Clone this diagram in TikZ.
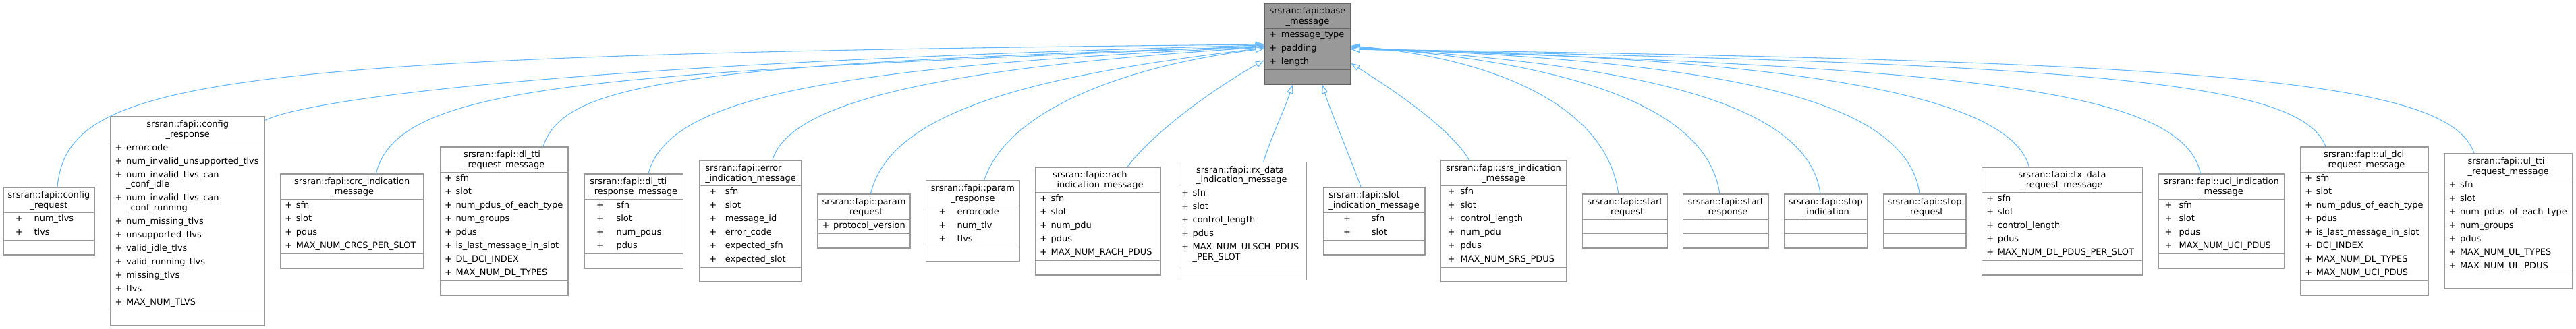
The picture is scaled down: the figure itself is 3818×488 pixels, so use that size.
\documentclass[tikz,border=0pt]{standalone}
\usepackage{fontspec}
\setmainfont{DejaVu Sans}
\usetikzlibrary{arrows.meta,positioning,fit,calc}
\definecolor{inheritblue}{HTML}{63B8FF}
\definecolor{boxgray}{HTML}{999999}
\definecolor{basefill}{HTML}{999999}
\definecolor{basedraw}{HTML}{666666}
\newlength{\pluscol}
\newcommand{\fattr}[1]{\strut\makebox[\pluscol][l]{+}#1}
\newcommand{\fcont}[1]{\\[-4pt]\strut\hspace*{\pluscol}#1}
\newcommand{\ftitle}[2]{\strut#1\\\strut#2}
\newcommand{\fapiclass}[8]{%
  \node[classbox,#8,fit={#2}] (#1) {};
  \node[classtitle,align=#4] at ($(#1.north)+(0,20.8)$) {#3};
  \draw[classrule,#8] ($(#1.north west)+(0,38)$) -- ($(#1.north east)+(0,38)$);
  \draw[classrule,#8] ($(#1.south west)+(0,-22)$) -- ($(#1.south east)+(0,-22)$);
  \setlength{\pluscol}{#6}%
  \node[classattr] at ($(#1.north west)+(#5,36.7)$) {#7};%
}

\begin{document}
\begin{tikzpicture}[
  x=0.75pt,y=-0.75pt,
  classbox/.style={draw=boxgray,fill=white,line width=1pt,inner sep=0pt},
  classrule/.style={draw=boxgray,line width=1pt},
  classtitle/.style={inner sep=0pt,font=\fontsize{9.7}{10.8}\selectfont},
  classattr/.style={anchor=north west,inner sep=0pt,align=left,font=\fontsize{9.7}{15}\selectfont},
  inherit/.style={draw=inheritblue,line width=0.8pt,-{Triangle[length=9.75pt,width=7pt,fill=white]}}
]
\useasboundingbox (0,0) rectangle (3818,488);

\fapiclass{base}{(1874.3,5) (2001.7,125)}{\ftitle{srsran::fapi::base}{\_message}}{center}{7.4}{13.2pt}
  {\fattr{message\_type}\\\fattr{padding}\\\fattr{length}}{fill=basefill,draw=basedraw}

\fapiclass{creq}{(5,278) (140,378)}{\ftitle{srsran::fapi::config}{\_request}}{center}{18.3}{20.8pt}
  {\fattr{num\_tlvs}\\\fattr{tlvs}}{}
\fapiclass{cresp}{(164,173) (392.5,483)}{\ftitle{srsran::fapi::config}{\_response}}{center}{7}{12.4pt}
  {\fattr{errorcode}\\\fattr{num\_invalid\_unsupported\_tlvs}\\\fattr{num\_invalid\_tlvs\_can}\fcont{\_conf\_idle}\\\fattr{num\_invalid\_tlvs\_can}\fcont{\_conf\_running}\\\fattr{num\_missing\_tlvs}\\\fattr{unsupported\_tlvs}\\\fattr{valid\_idle\_tlvs}\\\fattr{valid\_running\_tlvs}\\\fattr{missing\_tlvs}\\\fattr{tlvs}\\\fattr{MAX\_NUM\_TLVS}}{}
\fapiclass{crc}{(415.7,258) (627.8,398)}{\ftitle{srsran::fapi::crc\_indication}{\_message}}{center}{7}{12.4pt}
  {\fattr{sfn}\\\fattr{slot}\\\fattr{pdus}\\\fattr{MAX\_NUM\_CRCS\_PER\_SLOT}}{}
\fapiclass{dltti}{(652.4,218) (842,438)}{\ftitle{srsran::fapi::dl\_tti}{\_request\_message}}{left}{7}{12.4pt}
  {\fattr{sfn}\\\fattr{slot}\\\fattr{num\_pdus\_of\_each\_type}\\\fattr{num\_groups}\\\fattr{pdus}\\\fattr{is\_last\_message\_in\_slot}\\\fattr{DL\_DCI\_INDEX}\\\fattr{MAX\_NUM\_DL\_TYPES}}{}
\fapiclass{dlttiresp}{(866,258) (1012.5,398)}{\ftitle{srsran::fapi::dl\_tti}{\_response\_message}}{left}{18.5}{22.1pt}
  {\fattr{sfn}\\\fattr{slot}\\\fattr{num\_pdus}\\\fattr{pdus}}{}
\fapiclass{err}{(1037,238) (1188,418)}{\ftitle{srsran::fapi::error}{\_indication\_message}}{left}{14.7}{17.7pt}
  {\fattr{sfn}\\\fattr{slot}\\\fattr{message\_id}\\\fattr{error\_code}\\\fattr{expected\_sfn}\\\fattr{expected\_slot}}{}
\fapiclass{preq}{(1212,288) (1349,368)}{\ftitle{srsran::fapi::param}{\_request}}{center}{7}{12.4pt}
  {\fattr{protocol\_version}}{}
\fapiclass{presp}{(1372.7,268) (1511,388)}{\ftitle{srsran::fapi::param}{\_response}}{center}{19}{20.5pt}
  {\fattr{errorcode}\\\fattr{num\_tlv}\\\fattr{tlvs}}{}
\fapiclass{rach}{(1534.6,248) (1720,408)}{\ftitle{srsran::fapi::rach}{\_indication\_message}}{left}{7}{12.4pt}
  {\fattr{sfn}\\\fattr{slot}\\\fattr{num\_pdu}\\\fattr{pdus}\\\fattr{MAX\_NUM\_RACH\_PDUS}}{}
\fapiclass{rxdata}{(1744.5,240.5) (1936.2,415.5)}{\ftitle{srsran::fapi::rx\_data}{\_indication\_message}}{left}{7}{12.4pt}
  {\fattr{sfn}\\\fattr{slot}\\\fattr{control\_length}\\\fattr{pdus}\\\fattr{MAX\_NUM\_ULSCH\_PDUS}\fcont{\_PER\_SLOT}}{}
\fapiclass{slot}{(1961.2,278) (2112,378)}{\ftitle{srsran::fapi::slot}{\_indication\_message}}{left}{30.4}{31.2pt}
  {\fattr{sfn}\\\fattr{slot}}{}
\fapiclass{srs}{(2135.7,238) (2321.3,418)}{\ftitle{srsran::fapi::srs\_indication}{\_message}}{center}{10.3}{14.25pt}
  {\fattr{sfn}\\\fattr{slot}\\\fattr{control\_length}\\\fattr{num\_pdu}\\\fattr{pdus}\\\fattr{MAX\_NUM\_SRS\_PDUS}}{}
\fapiclass{startreq}{(2345.6,288) (2471.3,368)}{\ftitle{srsran::fapi::start}{\_request}}{center}{7}{12.4pt}{}{}
\fapiclass{startresp}{(2494.5,288) (2621,368)}{\ftitle{srsran::fapi::start}{\_response}}{center}{7}{12.4pt}{}{}
\fapiclass{stopind}{(2644.3,288) (2767.4,368)}{\ftitle{srsran::fapi::stop}{\_indication}}{center}{7}{12.4pt}{}{}
\fapiclass{stopreq}{(2791.3,288) (2913.8,368)}{\ftitle{srsran::fapi::stop}{\_request}}{center}{7}{12.4pt}{}{}
\fapiclass{txdata}{(2937.7,248) (3175.2,408)}{\ftitle{srsran::fapi::tx\_data}{\_request\_message}}{center}{7}{12.4pt}
  {\fattr{sfn}\\\fattr{slot}\\\fattr{control\_length}\\\fattr{pdus}\\\fattr{MAX\_NUM\_DL\_PDUS\_PER\_SLOT}}{}
\fapiclass{uci}{(3199.7,258) (3385.2,398)}{\ftitle{srsran::fapi::uci\_indication}{\_message}}{center}{9.3}{15.75pt}
  {\fattr{sfn}\\\fattr{slot}\\\fattr{pdus}\\\fattr{MAX\_NUM\_UCI\_PDUS}}{}
\fapiclass{uldci}{(3409.7,218) (3598.8,438)}{\ftitle{srsran::fapi::ul\_dci}{\_request\_message}}{left}{7}{12.4pt}
  {\fattr{sfn}\\\fattr{slot}\\\fattr{num\_pdus\_of\_each\_type}\\\fattr{pdus}\\\fattr{is\_last\_message\_in\_slot}\\\fattr{DCI\_INDEX}\\\fattr{MAX\_NUM\_DL\_TYPES}\\\fattr{MAX\_NUM\_UCI\_PDUS}}{}
\fapiclass{ultti}{(3622.9,228) (3812.4,428)}{\ftitle{srsran::fapi::ul\_tti}{\_request\_message}}{left}{7}{12.4pt}
  {\fattr{sfn}\\\fattr{slot}\\\fattr{num\_pdus\_of\_each\_type}\\\fattr{num\_groups}\\\fattr{pdus}\\\fattr{MAX\_NUM\_UL\_TYPES}\\\fattr{MAX\_NUM\_UL\_PDUS}}{}

\draw[inherit] ($(creq.north)+(12.5,0)$) .. controls (100,120) and (300,80) .. ($(base.west)+(0,1)$);
\draw[inherit] ($(cresp.north east)+(0,6)$) .. controls (450,150) and (800,95) .. ($(base.west)+(0,2)$);
\draw[inherit] ($(crc.north)+(35.7,0)$) .. controls (590,120) and (900,110) .. ($(base.west)+(0,3)$);
\draw[inherit] ($(dltti.north)+(57.8,0)$) .. controls (835,125) and (1000,95) .. ($(base.west)+(0,4)$);
\draw[inherit] ($(dlttiresp.north)+(21.75,0)$) .. controls (990,150) and (1200,100) .. ($(base.west)+(0,4.5)$);
\draw[inherit] ($(err.north)+(32.5,0)$) .. controls (1170,150) and (1400,100) .. ($(base.west)+(0,5)$);
\draw[inherit] ($(preq.north)+(10,0)$) .. controls (1320,160) and (1550,110) .. ($(base.west)+(0,6)$);
\draw[inherit] ($(presp.north)+(16.9,0)$) .. controls (1490,170) and (1650,100) .. ($(base.west)+(0,7)$);
\draw[inherit] ($(rach.north)+(43.7,0)$) .. controls (1715,190) and (1810,125) .. ($(base.west)+(0,24.5)$);
\draw[inherit] ($(rxdata.north)+(32.4,0)$) .. controls (1885,200) and (1905,160) .. ($(base.south)+(-22.3,0)$);
\draw[inherit] ($(slot.north)+(-19.6,0)$) .. controls (2000,230) and (1970,160) .. ($(base.south)+(22,0)$);
\draw[inherit] ($(srs.north)+(-51,0)$) .. controls (2150,190) and (2060,130) .. ($(base.east)+(0,29)$);
\draw[inherit] ($(startreq.north)+(-9.7,0)$) .. controls (2380,150) and (2200,85) .. ($(base.east)+(0,3)$);
\draw[inherit] ($(startresp.north)+(-9,0)$) .. controls (2530,150) and (2300,90) .. ($(base.east)+(0,4)$);
\draw[inherit] ($(stopind.north)+(-8,0)$) .. controls (2680,150) and (2420,95) .. ($(base.east)+(0,5)$);
\draw[inherit] ($(stopreq.north)+(-7.5,0)$) .. controls (2825,140) and (2530,90) .. ($(base.east)+(0,6)$);
\draw[inherit] ($(txdata.north)+(-49,0)$) .. controls (2975,130) and (2600,85) .. ($(base.east)+(0,7)$);
\draw[inherit] ($(uci.north)+(-31,0)$) .. controls (3235,130) and (2900,100) .. ($(base.east)+(0,7.5)$);
\draw[inherit] ($(uldci.north)+(-57.3,0)$) .. controls (3410,120) and (3100,95) .. ($(base.east)+(0,8)$);
\draw[inherit] ($(ultti.north)+(-50.6,0)$) .. controls (3630,120) and (3300,90) .. ($(base.east)+(0,8)$);
\end{tikzpicture}
\end{document}
